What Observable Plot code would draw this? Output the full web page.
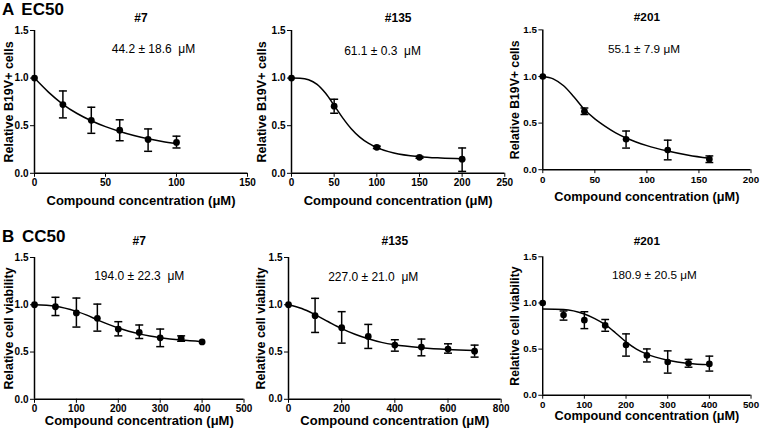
<!DOCTYPE html>
<html><head><meta charset="utf-8">
<script src="https://cdn.jsdelivr.net/npm/d3@7"></script>
<script src="https://cdn.jsdelivr.net/npm/@observablehq/plot@0.6"></script>
<style>
body{margin:0;background:#fff;}
#root{position:relative;width:760px;height:432px;overflow:hidden;font-family:"Liberation Sans",Arial,sans-serif;}
.panel{position:absolute;}
.panel svg{overflow:visible;}
.tag{position:absolute;font-weight:bold;font-size:17px;color:#000;line-height:1;white-space:pre;word-spacing:3px;}
</style></head><body><div id="root"></div>
<script>
// ---------- DATA ----------
// A EC50, #7
const a7_x  = [0, 20, 40, 60, 80, 100];
const a7_y  = [1.0, 0.722, 0.556, 0.452, 0.355, 0.324];
const a7_lo = [1.0, 0.582, 0.42, 0.342, 0.231, 0.266];
const a7_hi = [1.0, 0.865, 0.694, 0.562, 0.466, 0.39];
const a7_cx = [0, 10, 20, 30, 40, 50, 60, 70, 80, 90, 100];
const a7_cy = [1.0, 0.85, 0.725, 0.628, 0.552, 0.49, 0.44, 0.398, 0.363, 0.335, 0.312];
// A EC50, #135
const a135_x  = [0, 50, 100, 150, 200];
const a135_y  = [1.0, 0.705, 0.273, 0.168, 0.148];
const a135_lo = [1.0, 0.631, 0.26, 0.158, 0.02];
const a135_hi = [1.0, 0.778, 0.285, 0.178, 0.266];
const a135_cx = [0, 10, 20, 30, 40, 50, 60, 70, 80, 90, 100, 120, 150, 175, 200];
const a135_cy = [1.0, 0.998, 0.983, 0.934, 0.84, 0.713, 0.582, 0.468, 0.38, 0.316, 0.27, 0.214, 0.175, 0.161, 0.153];
// A EC50, #201
const a201_x  = [0, 40, 80, 120, 160];
const a201_y  = [1.0, 0.627, 0.327, 0.211, 0.113];
const a201_lo = [1.0, 0.592, 0.232, 0.106, 0.077];
const a201_hi = [1.0, 0.662, 0.415, 0.317, 0.148];
const a201_cx = [0, 10, 20, 30, 40, 50, 60, 70, 80, 100, 120, 140, 160];
const a201_cy = [1.0, 0.975, 0.9, 0.78, 0.645, 0.545, 0.465, 0.395, 0.34, 0.258, 0.2, 0.155, 0.122];
// B CC50, #7
const b7_x  = [0, 50, 100, 150, 200, 250, 300, 350, 400];
const b7_y  = [1.0, 0.979, 0.914, 0.857, 0.743, 0.707, 0.65, 0.643, 0.607];
const b7_lo = [1.0, 0.886, 0.764, 0.721, 0.671, 0.643, 0.557, 0.614, 0.607];
const b7_hi = [1.0, 1.079, 1.071, 1.007, 0.821, 0.786, 0.743, 0.671, 0.607];
const b7_cx = [0, 50, 100, 125, 150, 175, 200, 225, 250, 275, 300, 350, 400];
const b7_cy = [1.0, 0.985, 0.93, 0.89, 0.84, 0.795, 0.755, 0.72, 0.692, 0.67, 0.652, 0.626, 0.61];
// B CC50, #135
const b135_x  = [0, 100, 200, 300, 400, 500, 600, 700];
const b135_y  = [1.0, 0.884, 0.757, 0.665, 0.573, 0.552, 0.531, 0.509];
const b135_lo = [1.0, 0.707, 0.594, 0.538, 0.509, 0.46, 0.488, 0.446];
const b135_hi = [1.0, 1.068, 0.927, 0.792, 0.63, 0.637, 0.587, 0.573];
const b135_cx = [0, 50, 100, 150, 200, 250, 300, 350, 400, 500, 600, 700];
const b135_cy = [1.0, 0.96, 0.895, 0.82, 0.748, 0.688, 0.64, 0.602, 0.576, 0.545, 0.526, 0.515];
// B CC50, #201
const b201_x  = [0, 50, 100, 150, 200, 250, 300, 350, 400];
const b201_y  = [1.0, 0.87, 0.814, 0.757, 0.545, 0.432, 0.361, 0.347, 0.34];
const b201_lo = [1.0, 0.814, 0.722, 0.693, 0.424, 0.361, 0.24, 0.304, 0.262];
const b201_hi = [1.0, 0.913, 0.905, 0.821, 0.665, 0.502, 0.481, 0.389, 0.424];
const b201_cx = [0, 50, 100, 125, 150, 175, 200, 225, 250, 300, 350, 400];
const b201_cy = [0.935, 0.93, 0.88, 0.83, 0.765, 0.675, 0.578, 0.5, 0.445, 0.38, 0.345, 0.332];

const titles = ["#7", "#135", "#201", "#7", "#135", "#201"];
const notes = ["44.2 ± 18.6\u00a0 μM", "61.1 ± 0.3\u00a0 μM", "55.1 ± 7.9 μM",
               "194.0 ± 22.3\u00a0 μM", "227.0 ± 21.0\u00a0 μM", "180.9 ± 20.5 μM"];
const yLabels = ["Relative B19V+ cells", "Relative cell viability"];
const xLabel = "Compound concentration (μM)";
const xMax = [150, 250, 200, 500, 800, 500];
const xStep = [50, 50, 50, 100, 200, 100];
const yTicks = [0, 0.5, 1.0, 1.5];
const sectionTags = ["A EC50", "B CC50"];

// ---------- LAYOUT ----------
const layout = [
  {left: 34,    top: 29.5,  w: 213,   h: 142.8, ylab: -26, tdy: -12.5, xdy: 28,   ndx: 12.5, ndy: 19},
  {left: 290.7, top: 29.5,  w: 213.3, h: 142.8, ylab: -30, tdy: -12.5, xdy: 28,   ndx: -15.6, ndy: 21},
  {left: 542.7, top: 29.5,  w: 212.6, h: 142.8, ylab: -28, tdy: -12.5, xdy: 28,   ndx: -3,   ndy: 19.5},
  {left: 34,    top: 256.5, w: 209.5, h: 141.8, ylab: -26, tdy: -16,   xdy: 21.5, ndx: 0,    ndy: 19},
  {left: 288,   top: 256.5, w: 212.7, h: 141.8, ylab: -28, tdy: -16,   xdy: 21.5, ndx: -21.6, ndy: 19.5},
  {left: 542.7, top: 256.5, w: 213.3, h: 141.8, ylab: -28, tdy: -16,   xdy: 21.5, ndx: 7.7,  ndy: 18.5}
];
const series = [
  [a7_x, a7_y, a7_lo, a7_hi, a7_cx, a7_cy],
  [a135_x, a135_y, a135_lo, a135_hi, a135_cx, a135_cy],
  [a201_x, a201_y, a201_lo, a201_hi, a201_cx, a201_cy],
  [b7_x, b7_y, b7_lo, b7_hi, b7_cx, b7_cy],
  [b135_x, b135_y, b135_lo, b135_hi, b135_cx, b135_cy],
  [b201_x, b201_y, b201_lo, b201_hi, b201_cx, b201_cy]
];

const FONT = '"Liberation Sans", Arial, sans-serif';
const ML = 34, MR = 10, MT = 30, MB = 36;
const cap = {draw(ctx, size) { const w = Math.sqrt(size / Math.PI); ctx.moveTo(-w, 0); ctx.lineTo(w, 0); }};
const root = document.getElementById("root");

series.forEach((s, i) => {
  const L = layout[i];
  const [xs, ys, lo, hi, cx, cy] = s;
  const pts = xs.map((x, j) => ({x, y: ys[j], lo: lo[j], hi: hi[j]}));
  const err = pts.filter(d => d.hi - d.lo > 0.015);
  const curve = cx.map((x, j) => ({x, y: cy[j]}));
  const ends = err.flatMap(d => [{x: d.x, y: d.lo}, {x: d.x, y: d.hi}]);
  const plot = Plot.plot({
    width: ML + L.w + MR, height: MT + L.h + MB,
    marginLeft: ML, marginRight: MR, marginTop: MT, marginBottom: MB,
    style: {fontFamily: FONT, fontSize: "10px", fontWeight: "bold", color: "#000", background: "transparent", overflow: "visible"},
    x: {domain: [0, xMax[i]], ticks: d3.range(0, xMax[i] + 1, xStep[i]), tickSize: 4, tickPadding: 2, label: null},
    y: {domain: [0, 1.5], ticks: yTicks, tickFormat: d3.format(".1f"), tickSize: 4, tickPadding: 2, label: null},
    marks: [
      Plot.ruleY([0], {stroke: "#000", strokeWidth: 1.5}),
      Plot.ruleX([0], {stroke: "#000", strokeWidth: 1.5}),
      Plot.line(curve, {x: "x", y: "y", curve: "monotone-x", stroke: "#000", strokeWidth: 1.5}),
      Plot.ruleX(err, {x: "x", y1: "lo", y2: "hi", stroke: "#000", strokeWidth: 1.5}),
      Plot.dot(ends, {x: "x", y: "y", r: 4, symbol: cap, stroke: "#000", strokeWidth: 1.5}),
      Plot.dot(pts, {x: "x", y: "y", r: 3.4, fill: "#000", stroke: "none"}),
      Plot.text([titles[i]], {text: d => d, frameAnchor: "top", lineAnchor: "middle", dy: L.tdy, fontSize: 12, fontWeight: "bold", fill: "#000"}),
      Plot.text([notes[i]], {text: d => d, frameAnchor: "top", lineAnchor: "middle", dx: L.ndx, dy: L.ndy, fontSize: 12, fontWeight: "normal", fill: "#000"}),
      Plot.text([xLabel], {text: d => d, frameAnchor: "bottom", lineAnchor: "middle", dy: L.xdy, fontSize: 13, fontWeight: "bold", fill: "#000"}),
      Plot.text([yLabels[i < 3 ? 0 : 1]], {text: d => d, frameAnchor: "left", textAnchor: "middle", lineAnchor: "middle", dx: L.ylab, rotate: -90, fontSize: 12.5, fontWeight: "bold", fill: "#000"})
    ]
  });
  const div = document.createElement("div");
  div.className = "panel";
  div.style.left = (L.left - ML) + "px";
  div.style.top = (L.top - MT) + "px";
  div.appendChild(plot);
  root.appendChild(div);
});

const tagPos = [{left: 2, top: 1}, {left: 2, top: 228}];
sectionTags.forEach((t, i) => {
  const d = document.createElement("div");
  d.className = "tag";
  d.style.left = tagPos[i].left + "px";
  d.style.top = tagPos[i].top + "px";
  d.textContent = t;
  root.appendChild(d);
});
</script></body></html>
